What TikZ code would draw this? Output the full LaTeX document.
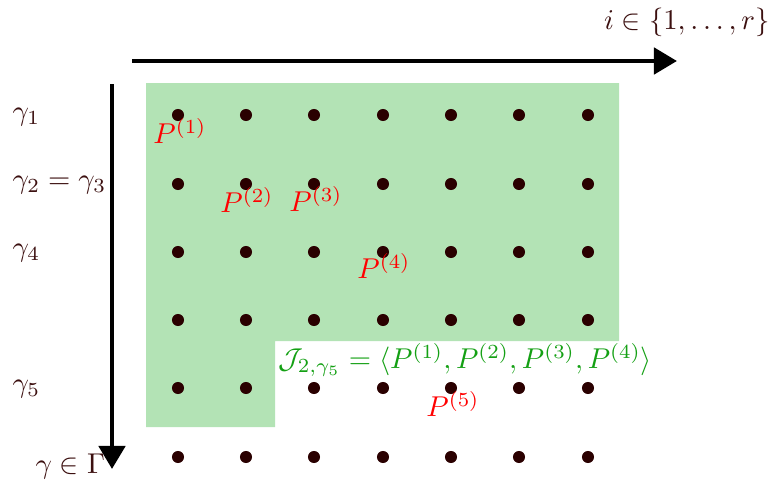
\documentclass[tikz,border=0pt]{standalone}
\usetikzlibrary{arrows.meta}
\definecolor{ink}{RGB}{60,16,16}
\definecolor{dotc}{RGB}{42,0,0}
\definecolor{fillg}{RGB}{179,227,181}
\definecolor{jgreen}{RGB}{20,160,20}
\begin{document}
\begin{tikzpicture}[x=0.349pt,y=-0.349pt,
  pt/.style={circle,fill=dotc,inner sep=0pt,minimum size=4.2pt},
  axis/.style={line width=1.68pt,-{Triangle[length=8.05pt,width=9.1pt]}},
  lab/.style={text=ink,inner sep=0pt},
  plab/.style={text=red,inner sep=0pt},
  jlab/.style={text=jgreen,inner sep=0pt}]
\useasboundingbox (0,0) rectangle (773,482);
\fill[fillg] (146,83) -- (619,83) -- (619,341) -- (275,341) -- (275,427) -- (146,427) -- cycle;
\foreach \c/\x in {1/178,2/246,3/314,4/383,5/451,6/519,7/588}{
  \foreach \r/\y in {1/115,2/184,3/252,4/320,5/388,6/457}{
    \node[pt] (d-\r-\c) at (\x,\y) {};
  }
}
\coordinate (hs) at (132,61);
\coordinate (he) at (677,61);
\draw[axis] (hs) -- (he);
\coordinate (vs) at (112,84);
\coordinate (ve) at (112,469);
\draw[axis] (vs) -- (ve);
\node[lab,anchor=east] (ilab) at (770,22) {$i\in\{1,\ldots,r\}$};
\node[lab,anchor=west] (g1) at (12,117) {$\gamma_1$};
\node[lab,anchor=west] (g23) at (12,185) {$\gamma_2=\gamma_3$};
\node[lab,anchor=west] (g4) at (12,253) {$\gamma_4$};
\node[lab,anchor=west] (g5) at (12,389) {$\gamma_5$};
\node[lab,anchor=west] (gG) at (35,466) {$\gamma\in\Gamma$};
\node[plab] (p1) at (180,131) {$P^{(1)}$};
\node[plab] (p2) at (247,200) {$P^{(2)}$};
\node[plab] (p3) at (316,199) {$P^{(3)}$};
\node[plab] (p4) at (384,266) {$P^{(4)}$};
\node[plab] (p5) at (453,404) {$P^{(5)}$};
\node[jlab,anchor=west] (J) at (278,360) {$\mathcal{J}_{2,\gamma_5}=\langle P^{(1)},P^{(2)},P^{(3)},P^{(4)}\rangle$};
\end{tikzpicture}
\end{document}
